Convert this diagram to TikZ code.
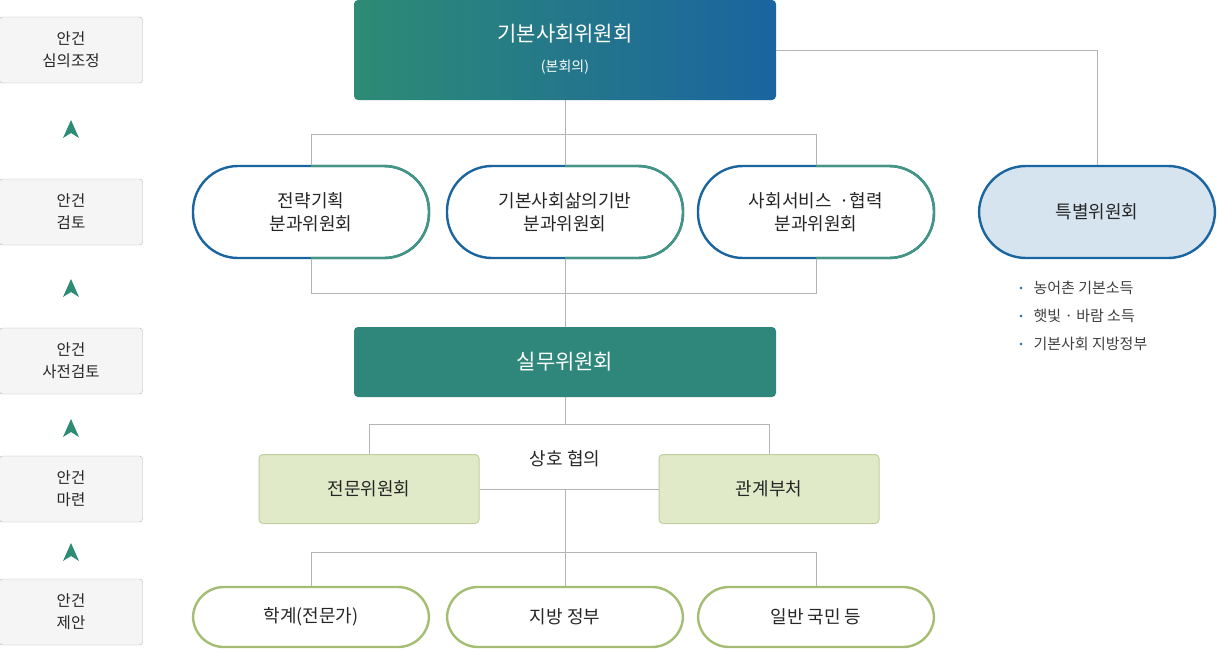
\documentclass[tikz,border=0pt]{standalone}
\usepackage{fontspec}
\setmainfont{Noto Sans CJK KR}
\usetikzlibrary{positioning}
\definecolor{tealg}{HTML}{2E8B74}
\definecolor{blueg}{HTML}{1A64A0}
\definecolor{work}{HTML}{2E877A}
\definecolor{olive}{HTML}{A3BD72}
\definecolor{palegr}{HTML}{E1EAC8}
\definecolor{palebd}{HTML}{BFCF9F}
\definecolor{paleblue}{HTML}{D6E4F0}
\definecolor{linegr}{HTML}{B4B4B4}
\begin{document}
\begin{tikzpicture}[x=1pt,y=-1pt,
    stage/.style={draw=linegr, fill=black!4, rounded corners=3pt, minimum width=143pt, minimum height=66pt, align=center, font=\fontsize{15.5}{22}\selectfont, text=black!85},
    pill/.style={rounded corners=47pt, minimum width=238pt, minimum height=94pt, align=center, font=\fontsize{18}{23}\selectfont, text=black!85},
    lowpill/.style={draw=olive, line width=2.4pt, rounded corners=31pt, minimum width=236pt, minimum height=60pt, font=\fontsize{18}{23}\selectfont, text=black!85},
    subbox/.style={draw=palebd, line width=1pt, fill=palegr, rounded corners=4pt, minimum width=220pt, minimum height=69pt, font=\fontsize{18}{23}\selectfont, text=black!85},
    link/.style={draw=linegr, line width=0.8pt},
    up/.style={fill=tealg}]
\useasboundingbox (0,0) rectangle (1217,649);
% stages
\node[stage] (s1) at (71,50) {안건\\심의조정};
\node[stage] (s2) at (71,212) {안건\\검토};
\node[stage] (s3) at (71,361) {안건\\사전검토};
\node[stage] (s4) at (71,489) {안건\\마련};
\node[stage] (s5) at (71,612) {안건\\제안};
\foreach \y in {129,288,428,552}
  \fill[up] (71,\y-9) -- (79,\y+9) -- (71,\y+4) -- (63,\y+9) -- cycle;
% top
\shade[left color=tealg, right color=blueg, rounded corners=4pt] (354,0) rectangle (776,100);
\node[font=\fontsize{21}{26}\selectfont, text=white] (main) at (565,34) {기본사회위원회};
\node[font=\fontsize{14}{18}\selectfont, text=white] (mainsub) at (565,67) {(본회의)};
\coordinate (mb) at (565,100);
\coordinate (mr) at (776,50);
% pills
\foreach \n/\x/\t in {p1/311/전략기획\\분과위원회, p2/565/기본사회삶의기반\\분과위원회, p3/816/사회서비스 \ ·협력\\분과위원회}{
  \node[pill] (\n) at (\x,212) {\t};
  \draw[blueg, line width=2.4pt, rounded corners=45pt] (\x-118,166) rectangle (\x+118,258);
  \begin{scope}
    \clip (\x,150) rectangle (\x+130,270);
    \draw[tealg!90, line width=2.4pt, rounded corners=45pt] (\x-118,166) rectangle (\x+118,258);
  \end{scope}
}
\node[pill, draw=blueg, line width=2.4pt, fill=paleblue, minimum width=236pt, minimum height=92pt] (sp) at (1097,212) {특별위원회};
\foreach \y/\t in {288/농어촌 기본소득, 316/햇빛 · 바람 소득, 344/기본사회 지방정부}{
  \fill[blueg] (1021,\y) circle (1.3pt);
  \node[anchor=west, font=\fontsize{15}{18}\selectfont, text=black!75] at (1030,\y) {\t};
}
% work
\node[fill=work, rounded corners=4pt, minimum width=422pt, minimum height=70pt, text=white, font=\fontsize{21}{26}\selectfont] (work) at (565,362) {실무위원회};
\node[subbox] (e1) at (369,489) {전문위원회};
\node[subbox] (e2) at (769,489) {관계부처};
\node[font=\fontsize{18}{23}\selectfont, text=black!85] (mut) at (565,459) {상호 협의};
\node[lowpill] (b1) at (311,617) {학계(전문가)};
\node[lowpill] (b2) at (565,617) {지방 정부};
\node[lowpill] (b3) at (816,617) {일반 국민 등};
% links
\draw[link] (mb) -- (565,134) (311,134) -- (816,134);
\draw[link] (311,134) -- (p1.north) (816,134) -- (p3.north) (565,134) -- (p2.north);
\draw[link] (mr) -| (sp.north);
\draw[link] (p1.south) -- (311,293) -- (816,293) -- (p3.south) (p2.south) -- (work.north);
\draw[link] (work.south) -- (565,424) (369,424) -- (769,424) (369,424) -- (e1.north) (769,424) -- (e2.north);
\draw[link] (e1.east) -- (e2.east -| e2.west) (565,489) -- (565,552) (311,552) -- (816,552);
\draw[link] (311,552) -- (b1.north) (565,552) -- (b2.north) (816,552) -- (b3.north);
\end{tikzpicture}
\end{document}
